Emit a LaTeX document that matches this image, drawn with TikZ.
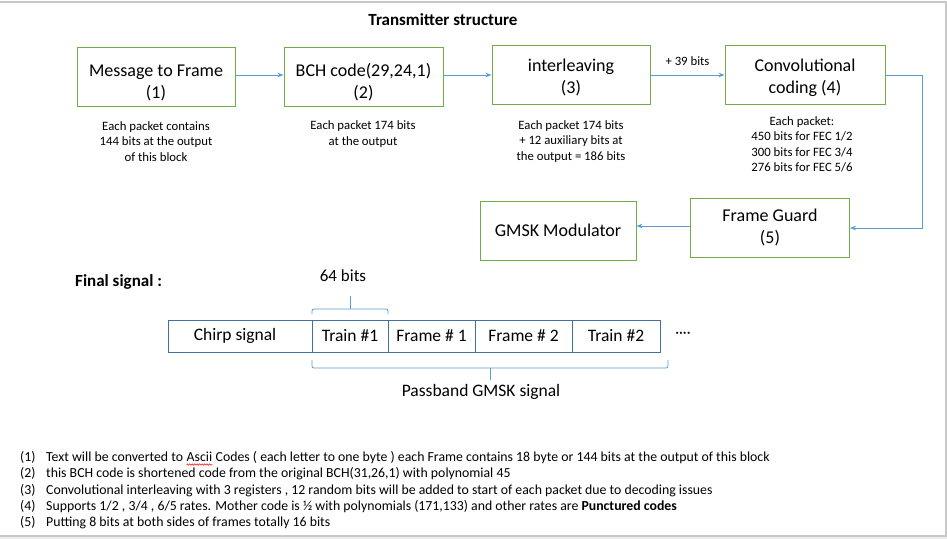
\documentclass[tikz,border=0pt]{standalone}
\usepackage{fontspec}
\setmainfont{Carlito}
\usetikzlibrary{arrows.meta,decorations.pathmorphing}
\definecolor{boxgreen}{HTML}{70AD47}
\definecolor{arrblue}{HTML}{5B9BD5}
\definecolor{stripblue}{HTML}{41719C}
\definecolor{framegray}{HTML}{C8C8C8}
\newcommand\lowered[2]{\raisebox{-#1}[\height][\depth]{\begin{tabular}{@{}c@{}}#2\end{tabular}}}
\tikzset{
  blockbox/.style={draw=boxgreen, line width=0.9pt, minimum height=59pt, align=center, font=\fontsize{18}{22}\selectfont, inner sep=0pt},
  flow/.style={draw=arrblue, line width=0.9pt, -{Stealth[length=6pt,width=4.5pt]}},
  captxt/.style={align=center, font=\fontsize{12.75}{15.5}\selectfont, inner sep=0pt},
  cell/.style={draw=stripblue, line width=0.8pt, minimum height=32pt, font=\fontsize{17.5}{20}\selectfont, inner sep=0pt},
  brace/.style={draw=arrblue, line width=0.8pt, rounded corners=2pt},
  notetxt/.style={anchor=base west, inner sep=0pt, font=\fontsize{13.8}{16}\selectfont},
}
\begin{document}
\begin{tikzpicture}[x=1pt,y=-1pt]
\useasboundingbox (0,0) rectangle (947,539);
% frame
\fill[gray!15] (0,536) rectangle (947,539);
\draw[framegray, line width=1.6pt] (0,2) -- (946,2) -- (946,536) -- (0,536);
% title
\node[font=\fontsize{17}{20}\selectfont\bfseries] (title) at (443,19.5) {Transmitter structure};
% blocks
\node[blockbox, minimum width=158pt] (b1) at (156,76.5) {\lowered{6.5pt}{Message to Frame\\(1)}};
\node[blockbox, minimum width=159pt] (b2) at (363.5,76.5) {\lowered{6.5pt}{BCH code(29,24,1)\\(2)}};
\node[blockbox, minimum width=158pt] (b3) at (571,75) {\lowered{3.5pt}{interleaving\\(3)}};
\node[blockbox, minimum width=160pt] (b4) at (805,75) {\lowered{3pt}{Convolutional\\coding (4)}};
\node[blockbox, minimum width=159pt] (fg) at (770,227.5) {\lowered{0.5pt}{Frame Guard\\(5)}};
\node[blockbox, minimum width=156pt] (gm) at (558,230.5) {GMSK Modulator};
% arrows
\draw[flow] ([yshift=1.5pt]b1.east) -- ([yshift=1.5pt]b2.west);
\draw[flow] ([yshift=1.5pt]b2.east) -- ([yshift=1.5pt]b2.east -| b3.west);
\draw[flow] (b3.east) -- node[above=9pt, font=\fontsize{12.75}{14}\selectfont, inner sep=0pt] (lab39) {+ 39 bits} (b4.west);
\coordinate (turn) at (922,75);
\draw[flow] (b4.east) -- (turn) |- ([yshift=-0.5pt]fg.east);
\draw[flow] ([yshift=1.5pt]fg.west) -- ([yshift=1.5pt]fg.west -| gm.east);
% captions
\node[captxt] (c1) at (156,141.5) {Each packet contains\\144 bits at the output\\of this block};
\node[captxt] (c2) at (363,134) {Each packet 174 bits\\at the output};
\node[captxt] (c3) at (571,141.5) {Each packet 174 bits\\+ 12 auxiliary bits at\\the output = 186 bits};
\node[captxt] (c4) at (802,144.5) {Each packet:\\450 bits for FEC 1/2\\300 bits for FEC 3/4\\276 bits for FEC 5/6};
% final signal
\node[anchor=west, inner sep=0pt, font=\fontsize{17}{20}\selectfont\bfseries] (fs) at (75,282) {Final signal :};
\node[cell, minimum width=144pt] (chirp) at (240,336) {\hspace*{-10pt}Chirp signal};
\node[cell, minimum width=76pt] (t1) at (350,336) {Train \#1};
\node[cell, minimum width=87pt] (f1) at (431.5,336) {Frame \# 1};
\node[cell, minimum width=97pt] (f2) at (523.5,336) {Frame \# 2};
\node[cell, minimum width=88pt] (t2) at (616,336) {Train \#2};
\node[font=\fontsize{15}{16}\selectfont, inner sep=0pt] (dots) at (683,335) {····};
% top brace
\node[font=\fontsize{17}{20}\selectfont, inner sep=0pt] (b64) at (343,276) {64 bits};
\coordinate (tl) at (312,314);
\coordinate (tr) at (388,314);
\draw[brace] (tl) -- ++(0,-5) -| (tr);
\coordinate (tb) at (350,309);
\coordinate (tt) at (350,296);
\draw[brace] (tb) -- (tt);
% bottom brace
\coordinate (bl) at (312,360);
\coordinate (br) at (668,360);
\draw[brace] (bl) -- ++(0,8) -| (br);
\coordinate (bm) at (490,368);
\coordinate (bt) at (490,380);
\draw[brace] (bm) -- (bt);
\node[font=\fontsize{17.5}{20}\selectfont, inner sep=0pt] (pb) at (481,392) {Passband GMSK signal};
% notes
\node[notetxt] (n1) at (20,461.5) {(1)};
\node[notetxt] (t1a) at (46,461.5) {Text will be converted to\ \mbox{}};
\node[notetxt] (asc) at (t1a.base east) {Ascii};
\node[notetxt] (t1b) at (asc.base east) {\ Codes ( each letter to one byte ) each Frame contains 18 byte or 144 bits at the output of this block};
\draw[red, line width=0.5pt, decorate, decoration={snake, amplitude=0.7pt, segment length=2.5pt}] ([yshift=-3pt]asc.base west) -- ([yshift=-3pt]asc.base east);
\node[notetxt] (n2) at (20,477.5) {(2)};
\node[notetxt] (t2n) at (46,477.5) {this BCH code is shortened code from the original BCH(31,26,1) with polynomial 45};
\node[notetxt] (n3) at (20,494) {(3)};
\node[notetxt] (t3n) at (46,494) {Convolutional interleaving with 3 registers , 12 random bits will be added to start of each packet due to decoding issues};
\node[notetxt] (n4) at (20,510.5) {(4)};
\node[notetxt] (t4n) at (46,510.5) {Supports 1/2 , 3/4 , 6/5 rates. Mother code is ½ with polynomials (171,133) and other rates are \textbf{Punctured codes}};
\node[notetxt] (n5) at (20,526.5) {(5)};
\node[notetxt] (t5n) at (46,526.5) {Putting 8 bits at both sides of frames totally 16 bits};
\end{tikzpicture}
\end{document}
